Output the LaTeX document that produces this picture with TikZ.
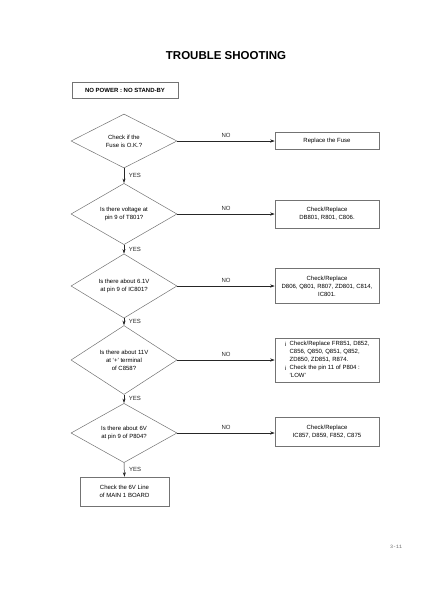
\documentclass[tikz,border=0pt]{standalone}
\usepackage{fontspec}
\setmainfont{Liberation Sans}
\setmonofont{Liberation Mono}
\usetikzlibrary{shapes.geometric}
\usetikzlibrary{arrows.meta}

\tikzset{
 ask/.style={diamond, draw=black!55, line width=.5pt, minimum width=106pt, minimum height=54pt, inner sep=0pt, align=center, font=\fontsize{6}{8}\selectfont},
 fix/.style={draw=black!55, line width=.5pt, minimum width=104pt, inner sep=1pt, align=center, font=\fontsize{6}{8}\selectfont},
 flow/.style={black!85, line width=.5pt, -{Stealth[length=4.5pt,width=3pt]}},
 tag/.style={font=\fontsize{6}{6}\selectfont, inner sep=1.5pt, black!85}
}

\begin{document}
\begin{tikzpicture}[x=1pt,y=-1pt]
\useasboundingbox (0,0) rectangle (423,600);
\node[font=\fontsize{11.5}{12}\bfseries] (title) at (226,56) {TROUBLE SHOOTING};
\node[fix, minimum width=106pt, minimum height=16pt, font=\fontsize{6}{7}\bfseries] (start) at (125,90) {NO POWER : NO STAND-BY};

% questions
\node[ask] (q1) at (124,141) {Check if the\\Fuse is O.K.?};
\node[ask] (q2) at (124,214) {Is there voltage at\\pin 9 of T801?};
\node[ask] (q3) at (124,286) {Is there about 6.1V\\at pin 9 of IC801?};
\node[ask] (q4) at (124,360) {Is there about 11V\\at `+' terminal\\of C858?};
\node[ask] (q5) at (124,433) {Is there about 6V\\at pin 9 of P804?};
\node[fix, minimum width=89pt, minimum height=29pt] (last) at (124.5,491.5) {Check the 6V Line\\of MAIN 1 BOARD};

% repairs
\node[fix, minimum height=17pt] (r1) at (327,140.5) {Replace the Fuse};
\node[fix, minimum height=28pt] (r2) at (327,214) {Check/Replace\\DB801, R801, C806.};
\node[fix, minimum height=35pt] (r3) at (327,286) {Check/Replace\\D806, Q801, R807, ZD801, C814,\\IC801.};
\node[fix, minimum height=44pt] (r4) at (327,360) {\begin{tabular}{@{}l@{\hspace{3pt}}l@{}}
 ¡ & Check/Replace FR851, D852,\\
   & C856, Q850, Q851, Q852,\\
   & ZD850, ZD851, R874.\\
 ¡ & Check the pin 11 of P804 :\\
   & `LOW'
 \end{tabular}};
\node[fix, minimum height=29pt] (r5) at (327,431.5) {Check/Replace\\IC857, D859, F852, C875};

\foreach \a/\b in {q1/q2, q2/q3, q3/q4, q4/q5, q5/last} {
 \draw[flow] (\a.south) -- (\b.north) node[midway, right, tag, xshift=3pt] {YES};
}
\foreach \i in {1,...,5} {
 \draw[flow] (q\i.east) -- (q\i.east -| r\i.west) node[midway, above, tag, yshift=1.5pt] {NO};
}

\node[font=\fontsize{5}{6}\ttfamily, black!60] (page) at (396,547) {3-11};
\end{tikzpicture}
\end{document}
